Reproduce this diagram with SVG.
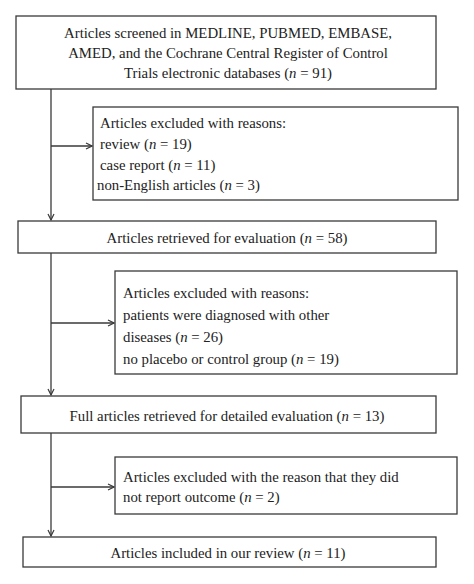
<svg xmlns="http://www.w3.org/2000/svg" width="474" height="584" viewBox="0 0 474 584">
<style>
.box{fill:#fff;stroke:#3a3a3a;stroke-width:1.3}
.t{font-family:"Liberation Serif","Times New Roman",serif;font-size:14.8px;fill:#222}
.c{text-anchor:middle}
.ln{fill:none;stroke:#3a3a3a;stroke-width:1.3}
</style>
<defs>
<marker id="ah" markerWidth="8" markerHeight="8" refX="7" refY="4" orient="auto" markerUnits="userSpaceOnUse">
<path d="M1,1 L7,4 L1,7" fill="none" stroke="#3a3a3a" stroke-width="1.2"/>
</marker>
</defs>
<rect width="474" height="584" fill="#fff"/>
<g id="connectors">
<line class="ln" x1="51" y1="89" x2="51" y2="220" marker-end="url(#ah)"/>
<line class="ln" x1="51" y1="146" x2="92" y2="146" marker-end="url(#ah)"/>
<line class="ln" x1="51" y1="253" x2="51" y2="395" marker-end="url(#ah)"/>
<line class="ln" x1="51" y1="323" x2="114" y2="323" marker-end="url(#ah)"/>
<line class="ln" x1="51" y1="433" x2="51" y2="536" marker-end="url(#ah)"/>
<line class="ln" x1="51" y1="487" x2="114" y2="487" marker-end="url(#ah)"/>
</g>
<g id="n1">
<rect class="box" x="16" y="16" width="420" height="73"/>
<text class="t c" x="228" y="38">Articles screened in MEDLINE, PUBMED, EMBASE,</text>
<text class="t c" x="228" y="58">AMED, and the Cochrane Central Register of Control</text>
<text class="t c" x="228" y="78">Trials electronic databases (<tspan font-style="italic">n</tspan> = 91)</text>
</g>
<g id="n2">
<rect class="box" x="93" y="107" width="365" height="93"/>
<text class="t" x="100" y="128">Articles excluded with reasons:</text>
<text class="t" x="100" y="149">review (<tspan font-style="italic">n</tspan> = 19)</text>
<text class="t" x="100" y="170">case report (<tspan font-style="italic">n</tspan> = 11)</text>
<text class="t" x="97" y="190">non-English articles (<tspan font-style="italic">n</tspan> = 3)</text>
</g>
<g id="n3">
<rect class="box" x="18" y="221" width="418" height="32"/>
<text class="t c" x="227" y="243">Articles retrieved for evaluation (<tspan font-style="italic">n</tspan> = 58)</text>
</g>
<g id="n4">
<rect class="box" x="115" y="271" width="342" height="103"/>
<text class="t" x="123" y="298">Articles excluded with reasons:</text>
<text class="t" x="123" y="320">patients were diagnosed with other</text>
<text class="t" x="123" y="342">diseases (<tspan font-style="italic">n</tspan> = 26)</text>
<text class="t" x="123" y="364">no placebo or control group (<tspan font-style="italic">n</tspan> = 19)</text>
</g>
<g id="n5">
<rect class="box" x="21" y="396" width="415" height="37"/>
<text class="t c" x="227" y="421">Full articles retrieved for detailed evaluation (<tspan font-style="italic">n</tspan> = 13)</text>
</g>
<g id="n6">
<rect class="box" x="115" y="457" width="342" height="57"/>
<text class="t" x="123" y="482">Articles excluded with the reason that they did</text>
<text class="t" x="123" y="502">not report outcome (<tspan font-style="italic">n</tspan> = 2)</text>
</g>
<g id="n7">
<rect class="box" x="23" y="537" width="413" height="30"/>
<text class="t c" x="228" y="558">Articles included in our review (<tspan font-style="italic">n</tspan> = 11)</text>
</g>
</svg>
